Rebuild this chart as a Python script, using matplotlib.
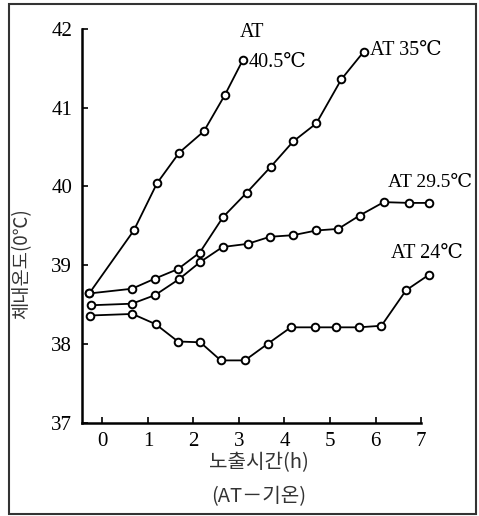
import matplotlib
matplotlib.use("Agg")
import matplotlib.pyplot as plt
from matplotlib.patches import Rectangle

serif = ['Liberation Serif', 'DejaVu Serif', 'Noto Sans CJK KR']
kor = ['Noto Sans CJK KR', 'DejaVu Sans']

# (hours, body temperature)
x_405 = [-0.29, 0.69, 1.20, 1.69, 2.23, 2.69, 3.09]
y_405 = [38.64, 39.44, 40.04, 40.43, 40.70, 41.16, 41.61]

x_35 = [-0.29, 0.65, 1.16, 1.66, 2.14, 2.65, 3.17, 3.70, 4.19, 4.70, 5.25, 5.74]
y_35 = [38.64, 38.70, 38.83, 38.95, 39.16, 39.61, 39.92, 40.25, 40.57, 40.80, 41.36, 41.71]

x_295 = [-0.26, 0.65, 1.16, 1.68, 2.15, 2.64, 3.19, 3.68, 4.19, 4.70, 5.18, 5.65, 6.18, 6.74, 7.18]
y_295 = [38.49, 38.51, 38.62, 38.82, 39.04, 39.23, 39.27, 39.36, 39.38, 39.44, 39.46, 39.63, 39.80, 39.79, 39.79]

x_24 = [-0.28, 0.66, 1.17, 1.66, 2.15, 2.60, 3.13, 3.63, 4.14, 4.66, 5.14, 5.63, 6.13, 6.67, 7.18]
y_24 = [38.36, 38.38, 38.25, 38.03, 38.02, 37.79, 37.79, 38.00, 38.21, 38.21, 38.21, 38.21, 38.23, 38.68, 38.88]

xticks = [0, 1, 2, 3, 4, 5, 6, 7]
yticks = [37, 38, 39, 40, 41, 42]

fig = plt.figure(figsize=(4.79, 5.16), dpi=100)
ax = fig.add_axes([0.171, 0.181, 0.708, 0.763])

for xs, ys in [(x_405, y_405), (x_35, y_35), (x_295, y_295), (x_24, y_24)]:
    ax.plot(xs, ys, color='black', lw=1.3, marker='o', ms=5.5,
            mfc='white', mec='black', mew=1.4, clip_on=False, zorder=3)

ax.set_xlim(-0.45, 7.0)
ax.set_ylim(37, 42)
ax.spines['top'].set_visible(False)
ax.spines['right'].set_visible(False)
ax.spines['left'].set_linewidth(1.8)
ax.spines['bottom'].set_linewidth(1.8)
ax.set_xticks(xticks)
ax.set_yticks(yticks)
ax.tick_params(direction='in', length=4, width=1.2, labelsize=15, pad=7)
for lab in ax.get_xticklabels() + ax.get_yticklabels():
    lab.set_family(serif)

ax.text(3.02, 41.95, 'AT', family=serif, fontsize=14.5, ha='left', va='center')
ax.text(3.22, 41.58, '40.5℃', family=serif, fontsize=14.5, ha='left', va='center')
ax.text(5.88, 41.72, 'AT 35℃', family=serif, fontsize=14.5, ha='left', va='center')
ax.text(6.27, 40.05, 'AT 29.5℃', family=serif, fontsize=14, ha='left', va='center')
ax.text(6.35, 39.15, 'AT 24℃', family=serif, fontsize=14.5, ha='left', va='center')

fig.text(0.046, 0.49, '체내온도(0℃)', family=kor, fontsize=13.5, rotation=90,
         ha='center', va='center', color='#333333')
fig.text(0.54, 0.103, '노출시간(h)', family=kor, fontsize=14.5, ha='center', va='center',
         color='#333333')
fig.text(0.54, 0.037, '(AT－기온)', family=kor, fontsize=14.5, ha='center', va='center',
         color='#333333')

fig.patches.append(Rectangle((0.019, 0.004), 0.975, 0.988, transform=fig.transFigure,
                             fill=False, edgecolor='#333333', lw=1.5))

fig.savefig('out.png', dpi=100)
